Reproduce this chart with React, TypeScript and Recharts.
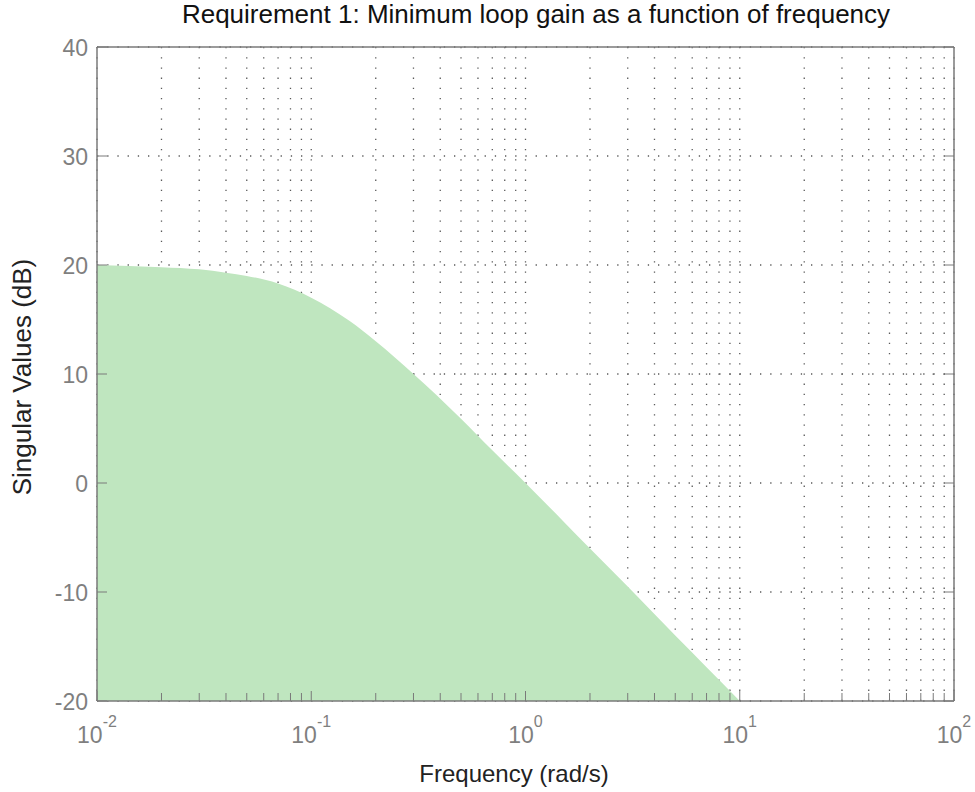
import { AreaChart, Area, XAxis, YAxis, CartesianGrid } from "recharts";

// frequency (rad/s) and minimum loop gain (dB)
const freqs = [0.01, 0.02, 0.03, 0.04, 0.05, 0.07, 0.1, 0.15, 0.2, 0.3, 0.5, 0.7, 1, 1.5, 2, 3, 5, 7, 10];
const gainDb = [20, 19.8, 19.6, 19.3, 19.0, 18.3, 17.0, 14.9, 13.0, 10.0, 5.9, 3.0, 0, -3.5, -6.0, -9.5, -14.0, -16.9, -20];

const xTicks = [
  0.01, 0.02, 0.03, 0.04, 0.05, 0.06, 0.07, 0.08, 0.09,
  0.1, 0.2, 0.3, 0.4, 0.5, 0.6, 0.7, 0.8, 0.9,
  1, 2, 3, 4, 5, 6, 7, 8, 9,
  10, 20, 30, 40, 50, 60, 70, 80, 90,
  100,
];
const majorX = [0.01, 0.1, 1, 10, 100];
const exponents = ["-2", "-1", "0", "1", "2"];
const yTicks = [-20, -10, 0, 10, 20, 30, 40];

const FONT = "'Liberation Sans', Arial, sans-serif";
const AXIS = "#7a7a7a";
const TICK_TEXT = "#7f7f7f";
const GRID = "#5a5a5a";
const FILL = "#bfe6bf";

const data = freqs.map((f, i) => ({ f, db: gainDb[i] }));

function BottomTick(props: any) {
  const { x, y, payload } = props;
  const i = majorX.indexOf(payload.value);
  const major = i >= 0;
  return (
    <g>
      <line x1={x} x2={x} y1={y} y2={y - (major ? 10 : 8)} stroke={AXIS} />
      {major && (
        <text x={x} y={y + 42} textAnchor="middle" fill={TICK_TEXT} fontSize={23} fontFamily={FONT}>
          <tspan>10</tspan>
          <tspan dy={-16} fontSize={16}>{exponents[i]}</tspan>
        </text>
      )}
    </g>
  );
}

function TopTick(props: any) {
  const { x, y, payload } = props;
  const major = majorX.indexOf(payload.value) >= 0;
  return <line x1={x} x2={x} y1={y} y2={y + (major ? 10 : 8)} stroke={AXIS} />;
}

function LeftTick(props: any) {
  const { x, y, payload } = props;
  return (
    <g>
      <line x1={x} x2={x + 10} y1={y} y2={y} stroke={AXIS} />
      <text x={x - 9} y={y + 8.5} textAnchor="end" fill={TICK_TEXT} fontSize={23} fontFamily={FONT}>
        {payload.value}
      </text>
    </g>
  );
}

function RightTick(props: any) {
  const { x, y } = props;
  return <line x1={x} x2={x - 10} y1={y} y2={y} stroke={AXIS} />;
}

export default function App() {
  return (
    <div style={{ position: "absolute", left: 0, top: 0, background: "#fff" }}>
      <AreaChart width={975} height={792} data={data} margin={{ top: 46, right: 20, bottom: 90, left: 96 }}>
        <CartesianGrid stroke={GRID} strokeWidth={1.3} strokeDasharray="1.3 8.9" />
        <XAxis
          dataKey="f"
          type="number"
          scale="log"
          domain={[0.01, 100]}
          allowDataOverflow
          ticks={xTicks}
          interval={0}
          height={1}
          tickSize={0}
          tickMargin={0}
          tickLine={false}
          tick={<BottomTick />}
          axisLine={{ stroke: AXIS, strokeWidth: 1.5 }}
        />
        <XAxis
          xAxisId="top"
          orientation="top"
          type="number"
          scale="log"
          domain={[0.01, 100]}
          allowDataOverflow
          ticks={xTicks}
          interval={0}
          height={1}
          tickSize={0}
          tickMargin={0}
          tickLine={false}
          tick={<TopTick />}
          axisLine={{ stroke: AXIS, strokeWidth: 1.5 }}
        />
        <YAxis
          type="number"
          domain={[-20, 40]}
          allowDataOverflow
          ticks={yTicks}
          interval={0}
          width={1}
          tickSize={0}
          tickMargin={0}
          tickLine={false}
          tick={<LeftTick />}
          axisLine={{ stroke: AXIS, strokeWidth: 1.5 }}
        />
        <YAxis
          yAxisId="right"
          orientation="right"
          type="number"
          domain={[-20, 40]}
          allowDataOverflow
          ticks={yTicks}
          interval={0}
          width={1}
          tickSize={0}
          tickMargin={0}
          tickLine={false}
          tick={<RightTick />}
          axisLine={{ stroke: AXIS, strokeWidth: 1.5 }}
        />
        <Area
          dataKey="db"
          type="monotone"
          baseValue={-20}
          stroke="none"
          fill={FILL}
          fillOpacity={1}
          isAnimationActive={false}
        />
        <text x={536} y={23} textAnchor="middle" fill="#111" fontSize={26} fontFamily={FONT}>
          Requirement 1: Minimum loop gain as a function of frequency
        </text>
        <text x={514} y={782} textAnchor="middle" fill="#222" fontSize={24} fontFamily={FONT}>
          Frequency (rad/s)
        </text>
        <text
          x={31}
          y={377}
          textAnchor="middle"
          fill="#222"
          fontSize={26}
          fontFamily={FONT}
          transform="rotate(-90 31 377)"
        >
          Singular Values (dB)
        </text>
      </AreaChart>
    </div>
  );
}
